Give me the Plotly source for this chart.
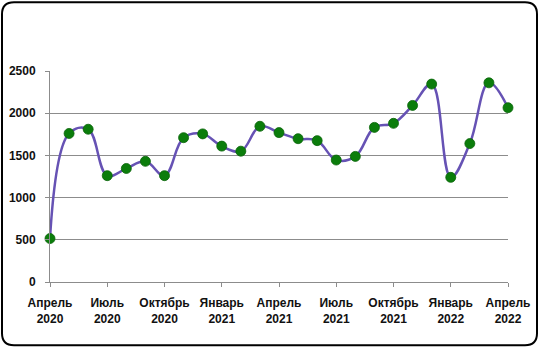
import plotly.graph_objects as go

months = ["Апрель 2020", "Май 2020", "Июнь 2020", "Июль 2020", "Август 2020", "Сентябрь 2020",
          "Октябрь 2020", "Ноябрь 2020", "Декабрь 2020", "Январь 2021", "Февраль 2021", "Март 2021",
          "Апрель 2021", "Май 2021", "Июнь 2021", "Июль 2021", "Август 2021", "Сентябрь 2021",
          "Октябрь 2021", "Ноябрь 2021", "Декабрь 2021", "Январь 2022", "Февраль 2022", "Март 2022",
          "Апрель 2022"]
values = [515, 1760, 1810, 1260, 1345, 1430, 1260, 1710, 1755, 1610, 1550, 1845,
          1770, 1698, 1675, 1445, 1488, 1832, 1880, 2092, 2345, 1240, 1640, 2360, 2065]
tick_labels = ["Апрель<br>2020", "Июль<br>2020", "Октябрь<br>2020", "Январь<br>2021", "Апрель<br>2021",
               "Июль<br>2021", "Октябрь<br>2021", "Январь<br>2022", "Апрель<br>2022"]
y_ticks = [0, 500, 1000, 1500, 2000, 2500]

W, H = 540, 348
L, R, T, B = 50, 508, 70.7, 281.7

x_idx = list(range(len(months)))

fig = go.Figure()
fig.add_trace(go.Scatter(
    x=x_idx, y=values, mode="lines+markers",
    line=dict(color="#6652b4", width=2.5, shape="spline", smoothing=1.1),
    marker=dict(color="#0b7d0b", size=10, line=dict(color="#0a650a", width=0.8)),
    cliponaxis=False, hovertext=months,
))

def P(px, py):
    a, b = (px - L) / (R - L), (B - py) / (B - T)
    return f"{a:.5f},{b:.5f}"

# rounded border
x0, y0, x1, y1, r = 2, 2, 537, 345, 12
path = (f"M {P(x0 + r, y0)} L {P(x1 - r, y0)} Q {P(x1, y0)} {P(x1, y0 + r)} "
        f"L {P(x1, y1 - r)} Q {P(x1, y1)} {P(x1 - r, y1)} "
        f"L {P(x0 + r, y1)} Q {P(x0, y1)} {P(x0, y1 - r)} "
        f"L {P(x0, y0 + r)} Q {P(x0, y0)} {P(x0 + r, y0)} Z")

fig.update_layout(
    width=W, height=H,
    margin=dict(l=L, r=W - R, t=T, b=H - B, autoexpand=False),
    paper_bgcolor="white", plot_bgcolor="white",
    showlegend=False,
    font=dict(family="Liberation Sans, Arial, sans-serif", size=12, color="#111"),
    shapes=[dict(type="path", path=path, xref="paper", yref="paper",
                 line=dict(color="black", width=2), layer="below")],
    xaxis=dict(range=[0, 24], tickmode="array", tickvals=list(range(0, 25, 3)),
               ticktext=[f"<b>{t}</b>" for t in tick_labels],
               showgrid=False, showline=True, linecolor="#8c8c8c", linewidth=1,
               ticks="outside", ticklen=4, tickcolor="#8c8c8c", zeroline=False,
               automargin=False, ticklabelstandoff=6,
               tickfont=dict(size=12, color="#111")),
    yaxis=dict(range=[0, 2500], tickmode="array", tickvals=y_ticks,
               ticktext=[f"<b>{v}</b>" for v in y_ticks],
               showgrid=True, gridcolor="#8c8c8c", gridwidth=1,
               showline=True, linecolor="#8c8c8c", linewidth=1,
               ticks="outside", ticklen=4, tickcolor="#8c8c8c", zeroline=False,
               automargin=False, ticklabelstandoff=7,
               tickfont=dict(size=12, color="#111")),
)

fig.write_html("out.html", config={"displayModeBar": False},
               post_script="document.body.style.margin='0';document.body.style.padding='0';")
